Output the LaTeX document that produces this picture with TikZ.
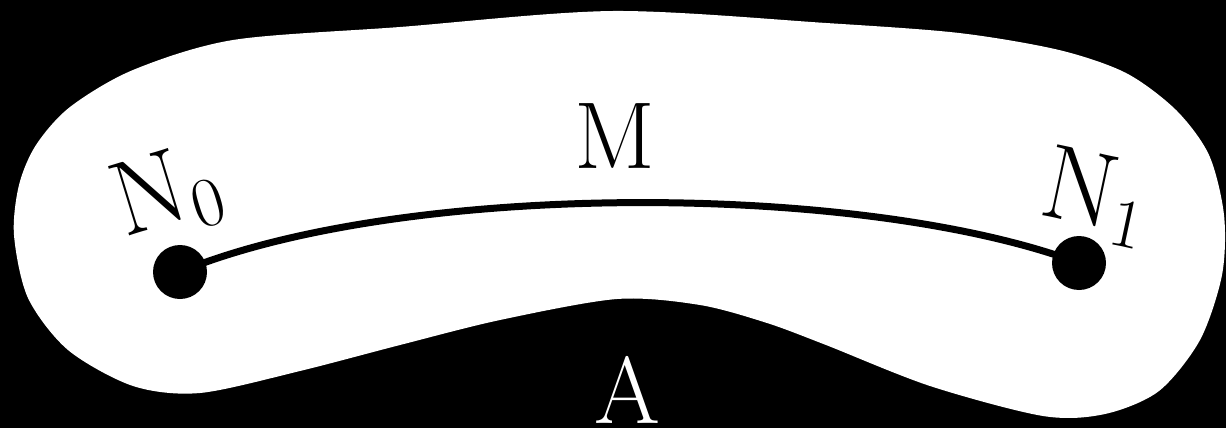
\documentclass[tikz,border=0pt]{standalone}
\usepackage{tikz}
\usepackage{amsmath}

\newcommand{\subidx}[1]{\raisebox{-14pt}{\fontsize{70}{70}\selectfont #1}}

\tikzset{
  dot/.style={circle,fill=black,inner sep=0pt,minimum size=54pt},
  lbl/.style={inner sep=0pt,font=\fontsize{95}{100}\selectfont},
  endlbl/.style={inner sep=0pt,font=\fontsize{106}{110}\selectfont}
}

\begin{document}
\begin{tikzpicture}[x=1pt,y=-1pt]
			\fill[black] (0,0) rectangle (1226,428);
			\useasboundingbox (0,0) rectangle (1226,428);
			\fill[white] plot[smooth cycle,tension=0.5] coordinates {
				(613,11) (826,23) (959,33) (1059,50) (1126,73) (1176,110) (1209,155)
				(1224,215) (1222,275) (1200,340) (1159,391) (1105,414) (1043,416)
				(930,386) (826,345) (767,323) (700,305) (617,299) (500,320)
				(400,345) (300,371) (200,393) (133,386) (68,350)
				(28,298) (14,235) (19,185) (36,145) (70,107) (133,70) (233,40) (400,27)};
			\node[dot] (n0) at (180,272) {};
			\node[dot] (n1) at (1079,263) {};
			\draw[line width=7pt] (n0.center) .. controls +(220,-91) and +(-220,-82) .. (n1.center);
			\node[endlbl,rotate=17] (n0lbl) at (167,195) {N\subidx{0}};
			\node[endlbl,rotate=-12] (n1lbl) at (1095,197) {N\subidx{1}};
			\node[lbl] (m) at (615,136) {M};
			\node[lbl,text=white] (a) at (627,390) {A};
		\end{tikzpicture}
\end{document}
